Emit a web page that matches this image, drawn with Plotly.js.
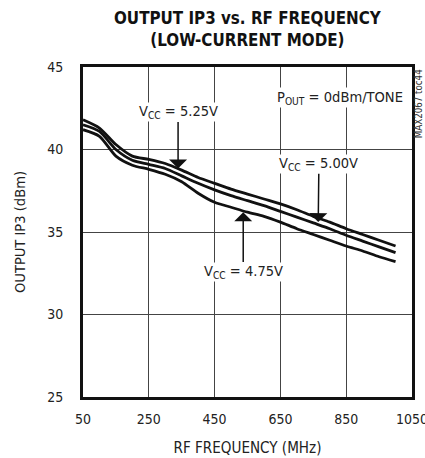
<!DOCTYPE html>
<html>
<head>
<meta charset="utf-8">
<script src="https://cdn.plot.ly/plotly-3.0.1.min.js"></script>
<style>html,body{margin:0;padding:0;background:#fff;}#chart{width:425px;height:458px;}</style>
</head>
<body>
<div id="chart"></div>
<script>
// RF frequency (MHz)
var freqMHz = [50,100,150,200,250,300,350,400,450,500,550,600,650,700,750,800,850,900,950,1000];
// Output IP3 (dBm) for each supply voltage
var ip3Vcc525 = [41.8,41.3,40.3,39.6,39.4,39.15,38.75,38.3,37.95,37.6,37.3,37.0,36.7,36.35,35.95,35.6,35.2,34.85,34.5,34.15];
var ip3Vcc500 = [41.5,41.1,40.0,39.35,39.1,38.85,38.4,37.95,37.55,37.2,36.9,36.6,36.25,35.9,35.55,35.2,34.8,34.45,34.1,33.75];
var ip3Vcc475 = [41.2,40.8,39.6,39.05,38.8,38.5,38.05,37.35,36.8,36.5,36.2,35.95,35.6,35.2,34.85,34.5,34.15,33.85,33.5,33.2];
// Tick values
var xTicks = [50,250,450,650,850,1050];
var yTicks = [25,30,35,40,45];

// ---- pick a condensed font that is installed ----
var cvs = document.createElement('canvas').getContext('2d');
function hasFont(name) {
  var s = 'mmmmmmmmmmlliWW0123456789ABC';
  var found = false;
  ['monospace', 'serif'].forEach(function (g) {
    cvs.font = '40px ' + g; var w0 = cvs.measureText(s).width;
    cvs.font = "40px '" + name + "', " + g; var w1 = cvs.measureText(s).width;
    if (Math.abs(w0 - w1) > 0.5) found = true;
  });
  return found;
}
var candidates = ['Liberation Sans Narrow', 'Arial Narrow', 'DejaVu Sans Condensed', 'Roboto Condensed', 'Roboto', 'Liberation Sans'];
var FONTNAME = 'Liberation Sans';
for (var i = 0; i < candidates.length; i++) { if (hasFont(candidates[i])) { FONTNAME = candidates[i]; break; } }
var FONT = "'" + FONTNAME + "', sans-serif";
function w100(text, bold) { cvs.font = (bold ? 'bold ' : '') + '100px ' + FONT; return cvs.measureText(text).width; }
function fit(text, target, bold) { return 100 * target / w100(text, bold); }
function fitSub(a, sub, b, target) { return 100 * target / (w100(a + b) + 0.7 * w100(sub)); }

var titleSize = Math.min(24, fit('OUTPUT IP3 vs. RF FREQUENCY', 267, true));
var tickSize = Math.min(18, fit('250', 24));
var xTitleSize = Math.min(17, fit('RF FREQUENCY (MHz)', 148));
var yTitleSize = Math.min(17, fit('OUTPUT IP3 (dBm)', 122));
var annSize = Math.min(18, fitSub('V', 'CC', ' = 5.25V', 79));
var poutSize = Math.min(18, fitSub('P', 'OUT', ' = 0dBm/TONE', 126));
var tocSize = Math.min(12, fit('MAX2067 toc44', 69));

function curve(y, name) {
  return {x: freqMHz, y: y, name: name, type: 'scatter', mode: 'lines',
    line: {color: '#111', width: 2.8, shape: 'spline', smoothing: 0.7},
    hoverinfo: 'skip'};
}
var data = [curve(ip3Vcc525, 'VCC = 5.25V'), curve(ip3Vcc500, 'VCC = 5.00V'), curve(ip3Vcc475, 'VCC = 4.75V')];

var annFont = {family: FONT, size: annSize, color: '#222'};
function arrowAnn(xTip, yTip, xText, yText, label) {
  return {x: xTip, y: yTip, ax: xText, ay: yText, axref: 'x', ayref: 'y', xref: 'x', yref: 'y',
    text: label, showarrow: true, arrowhead: 1, arrowsize: 2, arrowwidth: 1.5,
    arrowcolor: '#111', bgcolor: '#fff', borderpad: 0, font: annFont};
}
var layout = {
  width: 425, height: 458,
  margin: {l: 83, r: 13, t: 67, b: 61},
  paper_bgcolor: '#fff', plot_bgcolor: '#fff',
  showlegend: false,
  font: {family: FONT, color: '#222'},
  xaxis: {range: [50, 1050], tickvals: xTicks, ticktext: xTicks.map(String),
    showgrid: true, gridcolor: '#444', gridwidth: 1,
    showline: true, linecolor: '#111', linewidth: 3, mirror: true,
    ticks: '', zeroline: false, ticklabelstandoff: 7, ticklabeloverflow: 'allow',
    tickfont: {family: FONT, size: tickSize, color: '#222'},
    title: {text: 'RF FREQUENCY (MHz)', font: {family: FONT, size: xTitleSize, color: '#222'}, standoff: 17}},
  yaxis: {range: [25, 45], tickvals: yTicks, ticktext: yTicks.map(String),
    showgrid: true, gridcolor: '#444', gridwidth: 1,
    showline: true, linecolor: '#111', linewidth: 3, mirror: true,
    ticks: '', zeroline: false, ticklabelstandoff: 14, ticklabeloverflow: 'allow',
    tickfont: {family: FONT, size: tickSize, color: '#222'},
    title: {text: 'OUTPUT IP3 (dBm)', font: {family: FONT, size: yTitleSize, color: '#222'}, standoff: 19}},
  annotations: [
    {x: 0.5, y: 1.185, xref: 'paper', yref: 'paper', xanchor: 'center', yanchor: 'top',
     text: '<b>OUTPUT IP3 vs. RF FREQUENCY<br>(LOW-CURRENT MODE)</b>', showarrow: false,
     font: {family: FONT, size: titleSize, color: '#111'}},
    arrowAnn(339, 38.85, 339, 42.25, 'V<sub>CC</sub> = 5.25V'),
    arrowAnn(765, 35.6, 767, 39.1, 'V<sub>CC</sub> = 5.00V'),
    arrowAnn(537, 36.2, 537, 32.6, 'V<sub>CC</sub> = 4.75V'),
    {x: 832, y: 43.15, xref: 'x', yref: 'y', text: 'P<sub>OUT</sub> = 0dBm/TONE',
     showarrow: false, bgcolor: '#fff', borderpad: 0, font: {family: FONT, size: poutSize, color: '#222'}},
    {x: 1.018, y: 0.89, xref: 'paper', yref: 'paper', xanchor: 'center', yanchor: 'middle',
     text: 'MAX2067 toc44', textangle: -90,
     showarrow: false, font: {family: FONT, size: tocSize, color: '#333'}}
  ]
};
Plotly.newPlot('chart', data, layout, {displayModeBar: false, staticPlot: true});
</script>
</body>
</html>
